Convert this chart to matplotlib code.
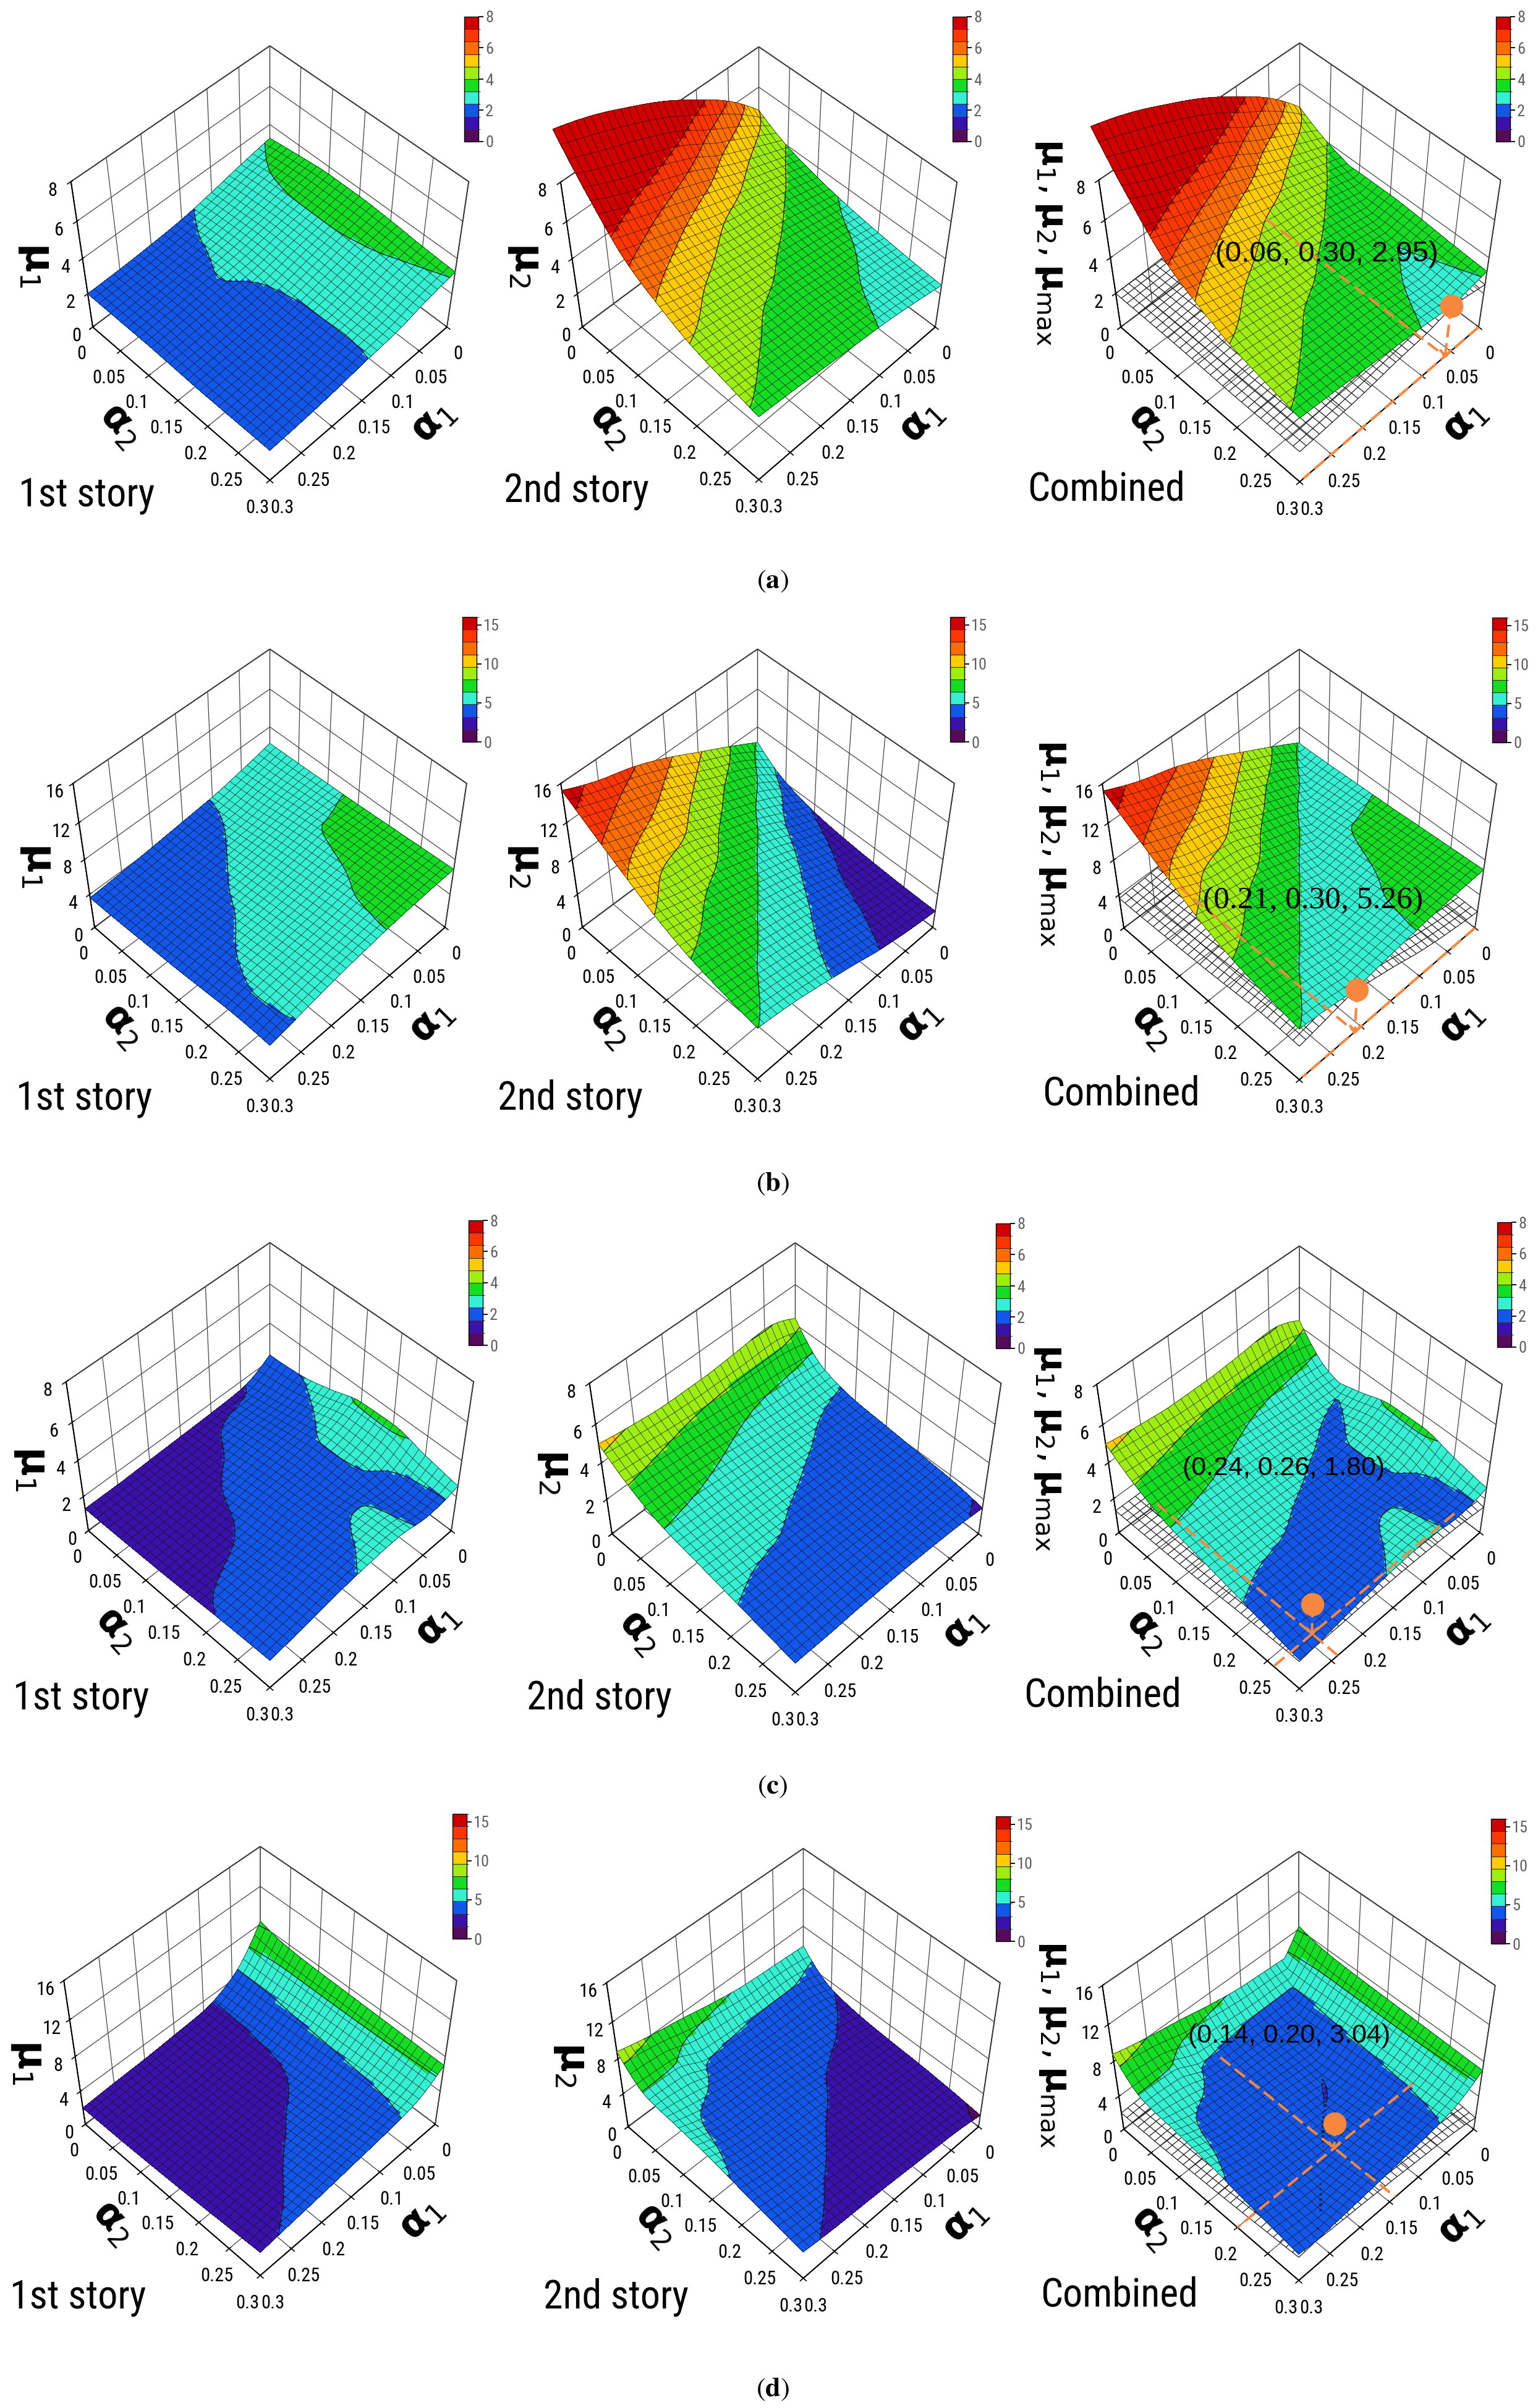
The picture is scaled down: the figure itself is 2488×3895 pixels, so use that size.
import numpy as np
import matplotlib
matplotlib.use("Agg")
import matplotlib.pyplot as plt
from matplotlib import font_manager
from matplotlib.colors import ListedColormap, BoundaryNorm
from matplotlib.cm import ScalarMappable
from matplotlib.path import Path

_names = {f.name for f in font_manager.fontManager.ttflist}
COND_FONT, COND_STRETCH = None, 'normal'
for _nm in ['Liberation Sans Narrow', 'Arial Narrow', 'Roboto Condensed',
            'DejaVu Sans Condensed', 'Open Sans Condensed']:
    if _nm in _names:
        COND_FONT = _nm
        break
if COND_FONT is None:
    for _f in font_manager.fontManager.ttflist:
        st = _f.stretch
        is_cond = (isinstance(st, str) and 'condensed' in st) or (not isinstance(st, str) and st < 100)
        if _f.name in ('Roboto', 'DejaVu Sans', 'Open Sans', 'Noto Sans') and is_cond:
            COND_FONT, COND_STRETCH = _f.name, 'condensed'
            break
if COND_FONT is None:
    COND_FONT = 'Liberation Sans'
    TITLE_SIZE, TICK_SIZE = 40, 19
else:
    TITLE_SIZE, TICK_SIZE = 46, 22

plt.rcParams['font.family'] = [COND_FONT, 'Liberation Sans', 'DejaVu Sans']
plt.rcParams['font.stretch'] = COND_STRETCH
plt.rcParams['mathtext.fontset'] = 'dejavusans'
plt.rcParams['grid.color'] = '#444444'
plt.rcParams['grid.linewidth'] = 0.9

W, H, DPI = 2488, 3895, 100

# ------------------------------------------------------------------ data
alpha_knots = [0.0, 0.05, 0.10, 0.15, 0.20, 0.25, 0.30]
alpha_tick_labels = ['0', '0.05', '0.1', '0.15', '0.2', '0.25', '0.3']
z_ticks_small = [0, 2, 4, 6, 8]
z_ticks_large = [0, 4, 8, 12, 16]
cbar_ticks_small = [0, 2, 4, 6, 8]
cbar_ticks_large = [0, 5, 10, 15]
band_colors = ['#560a5c', '#3a12ab', '#1257ea', '#35f0d2', '#14dd24',
               '#9fee12', '#ffcc00', '#ff6c00', '#ff3600', '#d00000']
row_letters = ['a', 'b', 'c', 'd']
panel_titles = ['1st story', '2nd story', 'Combined']
z_max = [8, 16, 8, 16]

# rows: alpha1 = 0 ... 0.3, columns: alpha2 = 0 ... 0.3
mu1_a = [[3.25, 3.45, 3.60, 3.60, 3.50, 3.35, 3.25],
         [2.95, 3.15, 3.20, 3.20, 3.15, 3.05, 2.95],
         [2.60, 2.75, 2.85, 2.80, 2.70, 2.60, 2.55],
         [2.30, 2.45, 2.50, 2.40, 2.35, 2.35, 2.38],
         [2.15, 2.25, 2.35, 2.20, 2.15, 2.15, 2.15],
         [2.05, 2.10, 2.15, 2.05, 2.00, 2.00, 2.00],
         [2.00, 2.00, 2.00, 1.95, 1.90, 1.90, 1.90]]
mu2_a = [[4.80, 3.95, 3.45, 3.10, 2.85, 2.65, 2.50],
         [6.35, 4.60, 3.95, 3.50, 3.25, 3.00, 2.85],
         [7.50, 5.30, 4.40, 3.90, 3.55, 3.30, 3.15],
         [8.50, 6.20, 4.75, 4.20, 3.85, 3.60, 3.35],
         [9.30, 6.90, 5.30, 4.55, 4.05, 3.75, 3.55],
         [10.0, 7.50, 5.90, 4.95, 4.45, 4.00, 3.75],
         [10.5, 8.30, 6.50, 5.50, 4.75, 4.30, 3.90]]
mu1_b = [[6.20, 6.25, 6.35, 6.45, 6.60, 6.75, 6.90],
         [5.45, 5.70, 6.10, 6.45, 6.60, 6.70, 6.75],
         [4.85, 5.00, 5.50, 5.90, 6.20, 6.45, 6.50],
         [4.50, 4.65, 4.95, 5.30, 5.60, 5.90, 6.10],
         [4.15, 4.30, 4.60, 4.85, 5.15, 5.45, 5.60],
         [3.85, 3.95, 4.20, 4.50, 4.80, 5.00, 4.95],
         [3.60, 3.65, 3.80, 3.95, 4.20, 4.40, 4.30]]
mu2_b = [[6.30, 4.10, 3.10, 2.60, 2.30, 2.10, 2.00],
         [8.10, 6.40, 4.70, 3.80, 3.10, 2.75, 2.50],
         [9.80, 7.80, 6.40, 5.25, 4.35, 3.70, 3.20],
         [11.5, 9.30, 7.60, 6.40, 5.50, 4.70, 4.20],
         [12.9, 10.8, 9.00, 7.40, 6.40, 5.60, 5.10],
         [13.9, 11.9, 9.60, 8.30, 7.30, 6.40, 5.90],
         [15.3, 13.2, 11.2, 9.30, 7.95, 7.10, 6.40]]
mu1_c = [[2.30, 2.40, 2.80, 3.30, 3.35, 2.95, 2.60],
         [1.55, 1.85, 2.20, 2.50, 2.45, 2.20, 2.30],
         [1.45, 1.75, 2.00, 2.15, 2.20, 2.45, 2.55],
         [1.40, 1.50, 1.75, 2.00, 2.15, 2.30, 2.45],
         [1.35, 1.42, 1.50, 1.62, 1.85, 2.10, 2.25],
         [1.30, 1.35, 1.42, 1.50, 1.70, 1.85, 1.95],
         [1.30, 1.33, 1.38, 1.45, 1.57, 1.65, 1.70]]
mu2_c = [[4.30, 2.70, 2.25, 2.10, 1.95, 1.80, 1.50],
         [4.85, 2.85, 2.35, 2.15, 2.00, 1.85, 1.70],
         [4.70, 3.05, 2.55, 2.25, 2.05, 1.90, 1.80],
         [4.60, 3.30, 2.75, 2.40, 2.15, 2.00, 1.85],
         [4.60, 3.55, 2.95, 2.55, 2.30, 2.05, 1.85],
         [4.75, 3.75, 3.10, 2.70, 2.35, 2.10, 1.80],
         [5.00, 3.90, 3.20, 2.85, 2.50, 2.15, 1.80]]
mu1_d = [[8.30, 7.60, 7.40, 7.30, 7.20, 7.10, 7.00],
         [4.30, 4.40, 4.60, 4.75, 4.90, 5.00, 5.10],
         [2.90, 2.95, 3.05, 3.25, 3.60, 4.05, 4.50],
         [2.60, 2.65, 2.75, 2.95, 3.25, 3.65, 4.10],
         [2.35, 2.40, 2.50, 2.70, 2.95, 3.30, 3.70],
         [2.20, 2.25, 2.35, 2.50, 2.70, 2.95, 3.35],
         [2.00, 2.05, 2.15, 2.30, 2.50, 2.75, 3.00]]
mu2_d = [[5.80, 3.30, 2.60, 2.30, 2.10, 1.80, 1.40],
         [6.00, 4.20, 3.30, 2.75, 2.45, 2.20, 2.00],
         [6.20, 4.25, 3.65, 3.10, 2.70, 2.50, 2.30],
         [6.70, 4.40, 4.00, 3.60, 3.10, 2.80, 2.60],
         [7.40, 4.60, 4.20, 3.85, 3.50, 3.10, 2.85],
         [8.00, 5.90, 4.55, 4.20, 3.85, 3.45, 3.05],
         [8.80, 6.10, 5.70, 5.25, 4.60, 4.00, 3.40]]

opt_alpha1 = [0.06, 0.21, 0.24, 0.14]
opt_alpha2 = [0.30, 0.30, 0.26, 0.20]
opt_mu = [2.95, 5.26, 1.80, 3.04]

# ------------------------------------------------------------------ layout (pixels, top-left origin)
target_L = [[(150, 529), (942, 529), (1813, 529)],
            [(153, 1500), (942, 1500), (1818, 1501)],
            [(143, 2476), (990, 2481), (1810, 2479)],
            [(138, 3436), (1016, 3440), (1818, 3444)]]
target_R = [[(723, 529), (1513, 529), (2392, 529)],
            [(720, 1500), (1509, 1500), (2386, 1501)],
            [(730, 2476), (1583, 2481), (2394, 2479)],
            [(704, 3436), (1583, 3440), (2384, 3444)]]
# box shape relative to floor width (front corner drop, back-top rise, left z-top offset)
box_shape = (0.445, -0.790, -0.550, -0.416)
title_pos = [[(30, 801), (815, 794), (1662, 791)],
             [(26, 1777), (805, 1777), (1686, 1770)],
             [(21, 2747), (852, 2747), (1656, 2742)],
             [(16, 3716), (879, 3716), (1683, 3712)]]
ann_pos = [(2146, 411), (2124, 1457), (2077, 2375), (2086, 3293)]
ann_size = [34, 37, 31, 31]
ann_family = ['Liberation Sans', 'Liberation Serif', 'Liberation Sans', 'Liberation Sans']
row_label_y = [940, 1915, 2890, 3865]

AZIM = 45
ORANGE = '#f5873e'


def pchip(x, y, xf):
    x = np.asarray(x, float); y = np.asarray(y, float)
    h = np.diff(x); dl = np.diff(y) / h
    n = len(x); d = np.zeros(n)
    for k in range(1, n - 1):
        if dl[k - 1] * dl[k] > 0:
            w1 = 2 * h[k] + h[k - 1]; w2 = h[k] + 2 * h[k - 1]
            d[k] = (w1 + w2) / (w1 / dl[k - 1] + w2 / dl[k])

    def end(h0, h1, d0, d1):
        dd = ((2 * h0 + h1) * d0 - h0 * d1) / (h0 + h1)
        if np.sign(dd) != np.sign(d0):
            dd = 0.0
        elif np.sign(d0) != np.sign(d1) and abs(dd) > abs(3 * d0):
            dd = 3 * d0
        return dd
    d[0] = end(h[0], h[1], dl[0], dl[1])
    d[-1] = end(h[-1], h[-2], dl[-1], dl[-2])
    idx = np.clip(np.searchsorted(x, xf, side='right') - 1, 0, n - 2)
    t = (xf - x[idx]) / h[idx]
    h00 = 2 * t**3 - 3 * t**2 + 1; h10 = t**3 - 2 * t**2 + t
    h01 = -2 * t**3 + 3 * t**2; h11 = t**3 - t**2
    return h00 * y[idx] + h10 * h[idx] * d[idx] + h01 * y[idx + 1] + h11 * h[idx] * d[idx + 1]


NF = 61
af = np.linspace(0, 0.3, NF)


def smooth_surface(grid):
    g = np.asarray(grid, float)
    rows = np.array([pchip(alpha_knots, r, af) for r in g])
    return np.array([pchip(alpha_knots, rows[:, j], af) for j in range(NF)]).T


A1, A2 = np.meshgrid(af, af, indexing='ij')

fig = plt.figure(figsize=(W / DPI, H / DPI), dpi=DPI, facecolor='white')


def fx(x):
    return x / W


def fy(y):
    return 1 - y / H


def set_limits(ax, zmax):
    for setter, lim in ((ax.set_xlim, (0, 0.3)), (ax.set_ylim, (0, 0.3)), (ax.set_zlim, (0, zmax))):
        try:
            setter(*lim, view_margin=0)
        except TypeError:
            setter(*lim)


def project_M(ax, M, pts):
    out = []
    for (x, y, z) in pts:
        v = M @ np.array([x, y, z, 1.0])
        out.append((v[0] / v[3], v[1] / v[3]))
    return ax.transData.transform(np.array(out))


# ---------- find the camera (elevation, focal length, height ratio) matching the box shape
probe = fig.add_axes([0.1, 0.1, 0.3, 0.3 * W / H], projection='3d')
set_limits(probe, 8)
fig.canvas.draw()
probe_pts = [(0.3, 0, 0), (0, 0.3, 0), (0.3, 0.3, 0), (0, 0, 8), (0.3, 0, 8)]


def shape_err(elev, f, zasp):
    probe.view_init(elev=elev, azim=AZIM)
    probe.set_box_aspect((1, 1, zasp))
    probe.set_proj_type('persp', focal_length=f)
    P = project_M(probe, probe.get_proj(), probe_pts)
    L, R, B, T, Z = P
    wd = R[0] - L[0]
    mx, my = (L + R) / 2
    got = ((my - B[1]) / wd, (my - T[1]) / wd, (Z[0] - mx) / wd, (my - Z[1]) / wd)
    return sum((g - t) ** 2 for g, t in zip(got, box_shape))


best = None
for e in np.arange(38, 70, 1.0):
    for f in (0.2, 0.25, 0.3, 0.35, 0.4, 0.5, 0.6, 0.75, 0.9, 1.1, 1.4):
        for za in np.arange(0.6, 1.45, 0.05):
            err = shape_err(e, f, za)
            if best is None or err < best[0]:
                best = (err, e, f, za)
_, e0, f0, z0 = best
for e in np.arange(e0 - 1, e0 + 1.01, 0.25):
    for f in f0 * np.array([0.85, 0.9, 0.95, 1.0, 1.05, 1.1, 1.15]):
        for za in np.arange(z0 - 0.05, z0 + 0.051, 0.01):
            err = shape_err(e, f, za)
            if err < best[0]:
                best = (err, e, f, za)
_, ELEV, FOCAL, ZASP = best
probe.remove()


def style_axes(ax, zmax, zticks):
    set_limits(ax, zmax)
    ax.view_init(elev=ELEV, azim=AZIM)
    ax.set_box_aspect((1, 1, ZASP))
    ax.set_proj_type('persp', focal_length=FOCAL)
    ax.set_xticks(alpha_knots); ax.set_xticklabels(alpha_tick_labels)
    ax.set_yticks(alpha_knots); ax.set_yticklabels(alpha_tick_labels)
    ax.set_zticks(zticks); ax.set_zticklabels([str(t) for t in zticks])
    for axis in (ax.xaxis, ax.yaxis, ax.zaxis):
        axis.set_pane_color((1, 1, 1, 1))
        axis.pane.set_edgecolor('black')
        axis.pane.set_linewidth(1.3)
        axis.line.set_color('black')
        axis.line.set_linewidth(1.3)
        axis._axinfo['grid']['color'] = '#444444'
        axis._axinfo['grid']['linewidth'] = 0.9
        axis._axinfo['tick']['linewidth'] = {True: 1.2, False: 1.0}
    ax.tick_params(labelsize=TICK_SIZE, pad=9)
    ax.zaxis.set_tick_params(pad=4)
    ax.set_facecolor((1, 1, 1, 0))
    ax.patch.set_alpha(0)


axes = []
for r in range(4):
    for c in range(3):
        ax = fig.add_axes([0.0, 0.0, 0.2, 0.2 * W / H], projection='3d', computed_zorder=False)
        style_axes(ax, z_max[r], z_ticks_small if z_max[r] == 8 else z_ticks_large)
        axes.append(ax)

fig.canvas.draw()

for k, ax in enumerate(axes):
    r, c = divmod(k, 3)
    Lt = np.array([target_L[r][c][0], H - target_L[r][c][1]], float)
    Rt = np.array([target_R[r][c][0], H - target_R[r][c][1]], float)
    P = project_M(ax, ax.M, [(0.3, 0, 0), (0, 0.3, 0)])
    L0, R0 = P[0], P[1]
    bb = ax.get_position()
    S0 = bb.width * W
    C0 = np.array([(bb.x0 + bb.width / 2) * W, (bb.y0 + bb.height / 2) * H])
    kf = (Rt[0] - Lt[0]) / (R0[0] - L0[0])
    S = S0 * kf
    rel = ((L0 + R0) / 2 - C0) / S0
    C = (Lt + Rt) / 2 - rel * S
    ax.set_position([(C[0] - S / 2) / W, (C[1] - S / 2) / H, S / W, S / H])

levels_small = np.linspace(0, 8, 11)
levels_large = np.linspace(0, 16, 11)
chevron = Path([(-1, 1.2), (0, 0), (1, 1.2)], [Path.MOVETO, Path.LINETO, Path.LINETO])

data_rows = [(mu1_a, mu2_a), (mu1_b, mu2_b), (mu1_c, mu2_c), (mu1_d, mu2_d)]

for r in range(4):
    levels = levels_small if z_max[r] == 8 else levels_large
    cmap = ListedColormap(band_colors)
    cmap.set_over(band_colors[-1]); cmap.set_under(band_colors[0])
    norm = BoundaryNorm(levels, cmap.N)
    Z1 = smooth_surface(data_rows[r][0])
    Z2 = smooth_surface(data_rows[r][1])
    surfaces = [Z1, Z2, np.maximum(Z1, Z2)]
    for c in range(3):
        ax = axes[r * 3 + c]
        Z = surfaces[c]
        if c == 2:
            Zmin = np.minimum(Z1, Z2)
            ax.plot_wireframe(A1, A2, Zmin, rstride=2, cstride=2, color='#101010',
                              linewidth=0.85, zorder=1)
        Cc = 0.25 * (Z[:-1, :-1] + Z[1:, :-1] + Z[:-1, 1:] + Z[1:, 1:])
        fc = np.ones((NF, NF, 4))
        fc[:-1, :-1] = cmap(norm(Cc))
        ax.plot_surface(A1, A2, Z, facecolors=fc, rstride=1, cstride=1, shade=False,
                        linewidth=0, antialiased=False, zorder=2)
        ax.plot_wireframe(A1, A2, Z, rstride=2, cstride=2, color='#111111',
                          linewidth=0.55, alpha=0.85, zorder=3)
        ax.contour(A1, A2, Z, levels=levels[1:-1], colors='#151515', linewidths=0.9, zorder=4)

        if c == 2:
            a1, a2, mu = opt_alpha1[r], opt_alpha2[r], opt_mu[r]
            ls = (0, (5, 2.2))
            ax.plot([a1, a1], [0, 0.3], [0, 0], color=ORANGE, lw=3, ls=ls, zorder=5)
            ax.plot([0, 0.3], [a2, a2], [0, 0], color=ORANGE, lw=3, ls=ls, zorder=5)
            ax.plot([a1, a1], [a2, a2], [mu, 0], color=ORANGE, lw=3, ls=ls, zorder=5)
            ax.plot([a1], [a2], [0], marker=chevron, ms=16, mec=ORANGE, mfc='none',
                    mew=3, ls='none', zorder=5)
            ax.plot([a1], [a2], [mu], marker='o', ms=26, color=ORANGE, ls='none', zorder=6)
            fig.text(fx(ann_pos[r][0]), fy(ann_pos[r][1]), f'({a1:.2f}, {a2:.2f}, {mu:.2f})',
                     fontsize=ann_size[r], family=ann_family[r], fontstretch='normal',
                     ha='center', va='center', color='black', zorder=20)

        L = target_L[r][c]; R = target_R[r][c]
        # colour bar
        cax = fig.add_axes([fx(R[0] + 28), fy(R[1] - 300), 23 / W, 202 / H])
        cb = fig.colorbar(ScalarMappable(norm=norm, cmap=cmap), cax=cax,
                          ticks=cbar_ticks_small if z_max[r] == 8 else cbar_ticks_large,
                          drawedges=True)
        cb.outline.set_linewidth(1.0)
        cb.dividers.set_color('#333333'); cb.dividers.set_linewidth(0.8)
        cb.ax.tick_params(labelsize=19, labelcolor='#606060', length=6, width=1.3, color='black', pad=2)
        # axis labels
        if c < 2:
            zl = r'$\mathbf{\mu}_%d$' % (c + 1)
            fig.text(fx(L[0] - 92), fy(L[1] - 100), zl, fontsize=46, rotation=270,
                     ha='center', va='center')
        else:
            zl = r'$\mathbf{\mu}_1, \mathbf{\mu}_2, \mathbf{\mu}_{\rm max}$'
            fig.text(fx(L[0] - 113), fy(L[1] - 137), zl, fontsize=42, rotation=270,
                     ha='center', va='center')
        fig.text(fx(L[0] + 46), fy(L[1] + 158), r'$\mathbf{\alpha}_2$', fontsize=46,
                 rotation=-48, ha='center', va='center')
        fig.text(fx(R[0] - 24), fy(R[1] + 152), r'$\mathbf{\alpha}_1$', fontsize=46,
                 rotation=45, ha='center', va='center')
        tp = title_pos[r][c]
        fig.text(fx(tp[0]), fy(tp[1]), panel_titles[c], fontsize=TITLE_SIZE, ha='left', va='center')

    fig.text(fx(1250), fy(row_label_y[r]), r'$(\mathbf{%s})$' % row_letters[r], fontsize=32,
             math_fontfamily='stix', ha='center', va='center')

fig.savefig('out.png', dpi=DPI, facecolor='white')
